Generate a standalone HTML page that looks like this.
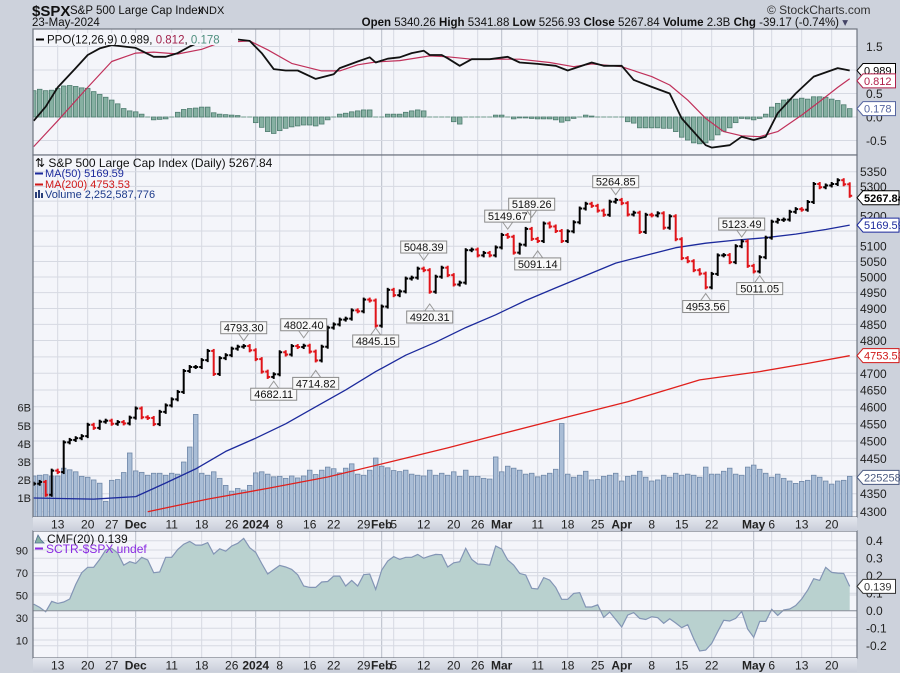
<!DOCTYPE html>
<html><head><meta charset="utf-8"><style>
html,body{margin:0;padding:0;background:#cdd2dc;}
svg{display:block;font-family:"Liberation Sans",sans-serif;}
</style></head><body>
<svg id="chart" width="900" height="673" viewBox="0 0 900 673" xmlns="http://www.w3.org/2000/svg">
<defs>
<linearGradient id="strip" x1="0" y1="0" x2="0" y2="1"><stop offset="0" stop-color="#e4e7ee"/><stop offset="1" stop-color="#c9ceda"/></linearGradient>
<clipPath id="cPPO"><rect x="33" y="29" width="824" height="126"/></clipPath>
<clipPath id="cMain"><rect x="33" y="155" width="824" height="362"/></clipPath>
<clipPath id="cCMF"><rect x="33" y="531" width="824" height="127"/></clipPath>
</defs>
<rect x="0" y="0" width="900" height="673" fill="#cdd2dc"/>
<g>
<text x="32" y="16" font-size="15" font-weight="bold" fill="#111">$SPX</text>
<text x="70" y="14" font-size="11.5" fill="#111">S&amp;P 500 Large Cap Index</text>
<text x="198" y="14" font-size="11" fill="#111">INDX</text>
<text x="32" y="26" font-size="11.5" fill="#111">23-May-2024</text>
<text x="767" y="14" font-size="12" fill="#333">© StockCharts.com</text>
<text x="848" y="26" font-size="11.5" fill="#111" text-anchor="end"><tspan font-weight="bold">Open</tspan> 5340.26 <tspan font-weight="bold">High</tspan> 5341.88 <tspan font-weight="bold">Low</tspan> 5256.93 <tspan font-weight="bold">Close</tspan> 5267.84 <tspan font-weight="bold">Volume</tspan> 2.3B <tspan font-weight="bold">Chg</tspan> -39.17 (-0.74%) <tspan fill="#446">▾</tspan></text>
</g>
<g id="ppoPanel"></g>
<g id="mainPanel"></g>
<g id="cmfPanel"></g>
</svg>
<script>
const closes=[4378,4383,4347,4415,4411,4496,4503,4508,4514,4547,4538,4556,4559,4550,4555,4551,4568,
4595,4569,4567,4549,4585,4604,4622,4644,4707,4719,4719,4740,4768,4698,4746,4755,4775,4781,4783,4770,
4743,4705,4689,4697,4764,4757,4783,4780,4784,4766,4739,4781,4840,4850,4865,4868,4894,4891,4928,4925,4846,
4906,4959,4942,4954,4995,4998,5027,5022,4953,5001,5030,5006,4976,4982,5087,5089,5070,5078,5070,5096,
5137,5131,5079,5105,5157,5124,5117,5175,5165,5150,5117,5149,5179,5225,5241,5234,5218,5204,5248,5254,
5243,5205,5211,5147,5204,5202,5209,5161,5199,5123,5061,5051,5022,5011,4967,5010,5070,5071,5048,5100,5116,5036,
5018,5064,5128,5181,5187,5188,5214,5223,5221,5247,5308,5297,5303,5308,5321,5307,5268];
const volumes=[2.2,2.24,2.27,2.2,2.2,2.63,2.54,2.43,2.18,2.13,1.98,1.8,0.8,1.96,2.0,2.39,3.47,
2.48,2.4,2.24,2.35,2.35,2.24,2.35,2.3,2.97,3.8,5.6,
2.35,2.24,2.43,2.07,1.68,1.36,1.51,1.42,1.68,
2.37,2.43,2.3,2.15,2.18,2.07,2.2,2.09,2.2,2.52,
2.28,2.52,2.69,2.6,2.37,2.63,2.87,2.3,2.24,2.52,
3.19,2.74,2.65,2.5,2.44,2.52,2.3,2.24,2.2,2.52,
2.24,2.35,2.24,
2.43,2.18,2.52,2.18,2.18,2.07,2.03,3.25,2.43,2.74,
2.63,2.52,2.3,2.35,2.15,2.24,2.35,2.57,5.1,2.3,
2.13,2.24,2.46,1.98,2.0,2.18,2.24,2.35,1.92,2.18,
2.24,2.46,2.13,1.92,1.98,2.24,2.13,2.35,2.24,2.3,
2.24,2.13,2.69,2.3,2.3,2.46,2.63,2.3,2.24,2.69,
2.8,2.57,2.35,2.13,2.3,2.07,1.92,1.79,1.9,1.96,
2.24,2.13,1.92,1.75,1.92,1.96,2.18];
const cmf=[0.038,0.019,-0.006,0.053,0.042,0.05,0.067,0.15,0.217,0.248,0.248,0.293,0.347,0.356,0.33,0.26,0.28,0.27,0.305,0.29,
0.217,0.221,0.305,0.305,0.35,0.38,0.396,0.375,0.375,0.389,0.324,0.354,0.34,0.37,0.385,0.413,0.36,0.333,0.27,0.21,
0.235,0.259,0.25,0.236,0.206,0.141,0.133,0.133,0.164,0.167,0.198,0.198,0.141,0.173,0.141,0.206,0.21,0.122,0.232,0.284,
0.309,0.293,0.305,0.305,0.322,0.3,0.312,0.322,0.32,0.25,
0.274,0.28,0.356,0.293,0.267,0.265,0.26,0.37,0.352,0.29,0.26,0.213,0.204,0.128,0.124,0.189,0.175,0.133,0.065,0.065,
0.099,0.103,0.021,0.021,0.034,-0.038,-0.008,-0.05,-0.093,-0.025,-0.011,-0.044,-0.05,-0.034,-0.04,-0.072,-0.046,-0.07,-0.097,-0.08,
-0.16,-0.23,-0.225,-0.187,-0.12,-0.055,-0.059,-0.044,-0.004,-0.105,-0.152,-0.061,-0.061,0.008,-0.027,0.004,0.01,0.03,0.067,0.118,
0.183,0.173,0.248,0.219,0.215,0.213,0.139];
const hist=[0.56,0.59,0.56,0.57,0.61,0.66,0.67,0.65,0.62,0.61,0.54,0.48,0.42,0.36,0.28,0.18,0.13,0.11,0.06,0.01,
-0.06,-0.05,-0.04,-0.01,0.1,0.16,0.18,0.19,0.21,0.21,0.09,0.06,0.05,0.04,0.03,0.01,-0.01,-0.12,-0.22,-0.31,
-0.35,-0.29,-0.24,-0.21,-0.19,-0.17,-0.17,-0.19,-0.15,-0.06,-0.01,0.06,0.08,0.11,0.13,0.15,0.15,0.01,0.01,0.06,
0.06,0.06,0.1,0.13,0.15,0.13,0.01,0,0,-0.01,
-0.1,-0.15,0.01,0.01,0.01,0.01,-0.01,0.04,0.04,-0.01,-0.04,-0.02,-0.02,-0.03,-0.04,-0.04,-0.04,-0.06,-0.11,-0.08,
-0.03,0.01,0.04,0.02,-0.01,-0.01,-0.01,-0.01,-0.01,-0.1,-0.13,-0.23,-0.23,-0.23,-0.23,-0.24,-0.24,-0.31,-0.43,-0.49,
-0.55,-0.57,-0.55,-0.49,-0.38,-0.3,-0.23,-0.12,-0.03,-0.04,-0.06,-0.03,0.06,0.21,0.29,0.36,0.38,0.38,0.4,0.38,
0.43,0.43,0.42,0.38,0.35,0.26,0.178];
const ppoIdx=[0,2,4,7,9,11,13,15,17,20,22,24,26,28,31,34,36,38,40,42,44,47,50,51,54,56,57,59,61,63,65,66,68,69,71,73,76,79,81,84,87,89,93,95,98,100,103,106,108,112,113,116,118,120,122,124,127,130,134,136];
const ppoVal=[-0.08,0.22,0.63,1.04,1.32,1.46,1.53,1.50,1.47,1.28,1.28,1.36,1.5,1.62,1.66,1.65,1.62,1.36,1.02,0.99,0.99,0.81,0.91,1.04,1.18,1.27,1.16,1.24,1.27,1.36,1.41,1.32,1.32,1.25,1.09,1.23,1.23,1.28,1.16,1.13,1.09,0.99,1.16,1.09,1.09,0.79,0.64,0.5,-0.03,-0.6,-0.65,-0.6,-0.42,-0.49,-0.42,0.08,0.5,0.86,1.04,0.989];
const sigIdx=[0,4,9,13,17,20,24,28,31,36,39,43,48,51,54,57,61,66,69,73,81,86,90,93,98,103,106,109,112,115,118,121,124,128,131,134,136];
const sigVal=[-0.63,-0.08,0.63,1.18,1.36,1.38,1.34,1.44,1.58,1.62,1.43,1.14,0.98,0.98,1.11,1.17,1.2,1.3,1.28,1.23,1.23,1.16,1.07,1.13,1.07,0.86,0.68,0.36,-0.03,-0.31,-0.4,-0.42,-0.31,0.04,0.33,0.63,0.812];
const ma50Idx=[0,10,17,22,27,32,37,42,47,52,57,62,67,72,77,82,87,92,97,102,107,112,117,122,127,132,136];
const ma50Val=[4338,4335,4342,4380,4420,4470,4508,4550,4600,4650,4705,4755,4795,4840,4880,4925,4965,5005,5045,5070,5095,5110,5120,5128,5140,5155,5169.59];
const ma200Idx=[19,29,39,49,59,69,79,89,99,111,121,129,136];
const ma200Val=[4300,4335,4365,4397,4438,4480,4525,4570,4615,4680,4705,4730,4753.53];
const annIdx=[35,40,45,47,57,65,66,79,83,84,97,112,118,121];
const annVal=[4793.30,4682.11,4802.40,4714.82,4845.15,5048.39,4920.31,5149.67,5189.26,5091.14,5264.85,4953.56,5123.49,5011.05];
const annAbove=[1,0,1,0,0,1,0,1,1,0,1,0,1,0];
const tickIdx=[4,9,13,17,23,28,33,37,41,46,50,55,58,60,65,70,74,78,84,89,94,98,103,108,113,120,123,128,133];
const tickLabel=["13","20","27","Dec","11","18","26","2024","8","16","22","29","Feb","5","12","20","26","Mar","11","18","25","Apr","8","15","22","May","6","13","20"];
const tickBold=[0,0,0,1,0,0,0,1,0,0,0,0,1,0,0,0,0,1,0,0,0,1,0,0,0,1,0,0,0];
const priceTicks=[4300,4350,4400,4450,4500,4550,4600,4650,4700,4750,4800,4850,4900,4950,5000,5050,5100,5150,5200,5250,5300,5350];
const volTicks=[1,2,3,4,5,6];
const ppoTicks=[1.5,1.0,0.5,0.0,-0.5];
const ppoTickLabels=["1.5","","","0.0","-0.5"];
const cmfTicks=[0.4,0.3,0.2,0.1,0.0,-0.1,-0.2];
const sctrTicks=[90,70,50,30,10];

const NS="http://www.w3.org/2000/svg";
const xOf=i=>33.7+6*i;
const yP=v=>511.7-1556*Math.log(v/4300);
const yV=b=>515.8-18.1*b;
const yPPO=v=>117-47*v;
const yCMF=v=>610.7-175*v;
const ySCTR=s=>550+(90-s)*1.125;
function mk(tag,attrs,parent,txt){const e=document.createElementNS(NS,tag);for(const k in attrs)e.setAttribute(k,attrs[k]);if(txt!==undefined)e.textContent=txt;parent.appendChild(e);return e;}

const ppoG=document.getElementById('ppoPanel');
const mainG=document.getElementById('mainPanel');
const cmfG=document.getElementById('cmfPanel');

function panelBase(g,y0,h,clip){
  const r=mk('rect',{x:33,y:y0,width:824,height:h,fill:'#f4f5fa',stroke:'none'},g);
  
  
  const grid=mk('g',{'clip-path':'url(#'+clip+')'},g);
  
  
  tickIdx.forEach((t,k)=>{mk('line',{x1:xOf(t),x2:xOf(t),y1:y0,y2:y0+h,stroke:tickBold[k]?'#b8bdc8':'#d6d9e2','stroke-width':1},grid);});
  return grid;
}
function hgrid(g,y){mk('line',{x1:33,x2:857,y1:y,y2:y,stroke:'#d6d9e2','stroke-width':1},g);}
function border(g,y0,h){const b=mk('rect',{x:33,y:y0,width:824,height:h,fill:'none',stroke:'#6f7480','stroke-width':1.2},g);
  }
function lineFrom(idx,vals,yf,parent,color,w){
  const pts=idx.map((t,k)=>xOf(t).toFixed(1)+','+yf(vals[k]).toFixed(1)).join(' ');
  return mk('polyline',{points:pts,fill:'none',stroke:color,'stroke-width':w,'stroke-linejoin':'round'},parent);
}
function tag(parent,y,text,color,bold){
  const w=Math.min(text.length*5.9+3,899-863);
  const p=mk('polygon',{points:`857,${y} 863,${y-7} ${863+w},${y-7} ${863+w},${y+7} 863,${y+7}`,fill:'#fff',stroke:color,'stroke-width':1},parent);
  
  
  mk('text',{x:864,y:y+4,'font-size':11,'font-weight':bold?'bold':'normal',fill:bold?'#000':color},parent,text);
}
function xStrip(y){
  const s=mk('rect',{x:33,y:y,width:824,height:14,fill:'url(#strip)'},mainG.parentNode);
  
  
  const g=mk('g',{},mainG.parentNode);
  
  
  tickIdx.forEach((t,k)=>{const tx=mk('text',{x:xOf(t),y:y+11.5,'font-size':12,'text-anchor':'middle','font-weight':tickBold[k]?'bold':'normal',fill:'#222'},g,tickLabel[k]);
    });
}

// ===== PPO panel =====
const pg=panelBase(ppoG,29,126,'cPPO');
ppoTicks.forEach(v=>hgrid(pg,yPPO(v)));
const hg=mk('g',{'clip-path':'url(#cPPO)'},ppoG);


hist.forEach((v,i)=>{const y0=yPPO(0),y1=yPPO(v);
  if(Math.abs(v)<0.02){mk('line',{x1:xOf(i)-2.5,x2:xOf(i)+2.5,y1:y0,y2:y0,stroke:'#6f9a8c','stroke-width':1},hg);return;}
  const b=mk('rect',{x:xOf(i)-2.3,y:Math.min(y0,y1),width:4.6,height:Math.abs(y1-y0),fill:'#86b0a2',stroke:'#4f7d70','stroke-width':0.8},hg);
  });
const ppoLines=mk('g',{'clip-path':'url(#cPPO)'},ppoG);
const sl=lineFrom(sigIdx,sigVal,yPPO,ppoLines,'#c0305a',1.2);

const pl=lineFrom(ppoIdx,ppoVal,yPPO,ppoLines,'#111',1.8);

border(ppoG,29,126);
ppoTicks.forEach((v,k)=>{if(ppoTickLabels[k])mk('text',{x:866,y:yPPO(v)+4.5,'font-size':12,fill:'#222'},ppoG,ppoTickLabels[k]);});
mk('text',{x:866,y:yPPO(0.5)+4.5,'font-size':12,fill:'#222'},ppoG,'0.5');
tag(ppoG,yPPO(ppoVal[ppoVal.length-1]),'0.989','#000',false);
tag(ppoG,yPPO(sigVal[sigVal.length-1])+2,'0.812','#b0204a',false);
tag(ppoG,yPPO(hist[hist.length-1]),'0.178','#5565a0',false);
const pleg=mk('g',{},ppoG);

mk('rect',{x:35,y:33,width:203,height:12,fill:'#f4f5fa'},pleg);
mk('line',{x1:36,x2:44,y1:39.5,y2:39.5,stroke:'#000','stroke-width':2},pleg);
const plt=mk('text',{x:47,y:43.5,'font-size':11.5,fill:'#111'},pleg);
mk('tspan',{},plt,'PPO(12,26,9) 0.989, ');
mk('tspan',{fill:'#a0204a'},plt,'0.812');
mk('tspan',{},plt,', ');
mk('tspan',{fill:'#4f8f7f'},plt,'0.178');

// ===== Main panel =====
const mg=panelBase(mainG,155,362,'cMain');
priceTicks.forEach(v=>hgrid(mg,yP(v)));
const vg=mk('g',{'clip-path':'url(#cMain)'},mainG);

volumes.forEach((b,i)=>{const y=yV(b);
  const r=mk('rect',{x:xOf(i)-2.3,y:y,width:4.6,height:517-y,fill:'#a9bdd6',stroke:'#7088a8','stroke-width':0.8},vg);
  });
const ml=mk('g',{'clip-path':'url(#cMain)'},mainG);
const m2=lineFrom(ma200Idx,ma200Val,yP,ml,'#e0201c',1.3);

const m5=lineFrom(ma50Idx,ma50Val,yP,ml,'#1c2a9c',1.3);

const bg=mk('g',{'clip-path':'url(#cMain)'},mainG);

closes.forEach((c,i)=>{const o=i?closes[i-1]:c;const col=(i&&c<o)?'#e0141a':'#000';
  const x=xOf(i),yo=yP(o),yc=yP(c);
  const hi=Math.min(yo,yc)-2,lo=Math.max(yo,yc)+2;
  const g=mk('g',{stroke:col,'stroke-width':2},bg);
  
  mk('line',{x1:x,x2:x,y1:hi,y2:lo},g);
  mk('line',{x1:x-2.5,x2:x,y1:yo,y2:yo},g);
  mk('line',{x1:x,x2:x+2.5,y1:yc,y2:yc},g);});
const ag=mk('g',{},mainG);

annIdx.forEach((t,k)=>{const x=xOf(t),y=yP(annVal[k]);const s=annVal[k].toFixed(2);const w=s.length*6+4;
  const by=annAbove[k]?y-21:y+9;
  const a=mk('g',{},ag);
  
  mk('polyline',{points:annAbove[k]?`${x-5},${by+12} ${x},${y-2} ${x+5},${by+12}`:`${x-5},${by} ${x},${y+2} ${x+5},${by}`,fill:'none',stroke:'#999','stroke-width':1},a);
  mk('rect',{x:x-w/2,y:by,width:w,height:12,fill:'#f8f8f8',stroke:'#8a8a8a','stroke-width':1},a);
  mk('text',{x:x,y:by+10,'font-size':11,'text-anchor':'middle',fill:'#111'},a,s);});
border(mainG,155,362);
const hidden={5300:1,5250:1,5150:1,4750:1,4400:1};
priceTicks.forEach(v=>{if(hidden[v])return;const t=mk('text',{x:860,y:yP(v)+4.5,'font-size':12,fill:'#222'},mainG,String(v));
  });
mk('text',{x:860,y:yP(5300)+4.5,'font-size':12,fill:'#222'},mainG,'5300');
volTicks.forEach(b=>{const t=mk('text',{x:31,y:yV(b)+4.5,'font-size':11,'text-anchor':'end',fill:'#222'},mainG,b+'B');
  });
tag(mainG,yP(closes[closes.length-1])+2,'5267.84','#000',true);
tag(mainG,yP(ma50Val[ma50Val.length-1]),'5169.59','#1c2a9c',false);
tag(mainG,yP(ma200Val[ma200Val.length-1]),'4753.53','#d01818',false);
tag(mainG,yV(volumes[volumes.length-1])+1,'2252587','#4a5a80',false);
const mleg=mk('g',{},mainG);

mk('text',{x:35,y:167,'font-size':12,fill:'#111'},mleg,'⇅ S&P 500 Large Cap Index (Daily) 5267.84');
mk('line',{x1:35,x2:43,y1:173.5,y2:173.5,stroke:'#1c2a9c','stroke-width':2},mleg);
mk('text',{x:45,y:177,'font-size':11,fill:'#1c2a9c'},mleg,'MA(50) 5169.59');
mk('line',{x1:35,x2:43,y1:184.5,y2:184.5,stroke:'#d01818','stroke-width':2},mleg);
mk('text',{x:45,y:188,'font-size':11,fill:'#d01818'},mleg,'MA(200) 4753.53');
mk('rect',{x:35,y:192,width:2,height:6,fill:'#2a3f7a'},mleg);mk('rect',{x:38,y:190,width:2,height:8,fill:'#2a3f7a'},mleg);mk('rect',{x:41,y:193,width:2,height:5,fill:'#2a3f7a'},mleg);
mk('text',{x:45,y:198,'font-size':11,fill:'#1c3a8a'},mleg,'Volume 2,252,587,776');
xStrip(517);

// ===== CMF panel =====
const cg=panelBase(cmfG,531,127,'cCMF');
cmfTicks.forEach(v=>hgrid(cg,yCMF(v)));
sctrTicks.forEach(s=>hgrid(cg,ySCTR(s)));
const cf=mk('g',{'clip-path':'url(#cCMF)'},cmfG);
const z=yCMF(0);
let d='M'+xOf(0)+','+z;
cmf.forEach((v,i)=>{d+=' L'+xOf(i).toFixed(1)+','+yCMF(v).toFixed(1);});
d+=' L'+xOf(cmf.length-1)+','+z+' Z';
const area=mk('path',{d:d,fill:'#b9d1cf',stroke:'none'},cf);

const cl=mk('polyline',{points:cmf.map((v,i)=>xOf(i).toFixed(1)+','+yCMF(v).toFixed(1)).join(' '),fill:'none',stroke:'#8395b5','stroke-width':1.2},cf);

mk('line',{x1:33,x2:857,y1:z,y2:z,stroke:'#8a8f9a','stroke-width':1},cf);
border(cmfG,531,127);
cmfTicks.forEach(v=>{const t=mk('text',{x:866,y:yCMF(v)+4.5,'font-size':12,fill:'#222'},cmfG,v.toFixed(1));
  });
sctrTicks.forEach(s=>{const t=mk('text',{x:28,y:ySCTR(s)+4.5,'font-size':11,'text-anchor':'end',fill:'#222'},cmfG,String(s));
  });
tag(cmfG,yCMF(cmf[cmf.length-1]),'0.139','#333',false);
const cleg=mk('g',{},cmfG);

mk('polygon',{points:'35,543 38,535 41,540 44,543',fill:'#86b0a2',stroke:'#4f6d90','stroke-width':0.8},cleg);
mk('text',{x:47,y:543,'font-size':12,fill:'#111'},cleg,'CMF(20) 0.139');
mk('line',{x1:35,x2:43,y1:548.5,y2:548.5,stroke:'#8a2be2','stroke-width':2},cleg);
mk('text',{x:46,y:553,'font-size':12,fill:'#8a2be2'},cleg,'SCTR-$SPX undef');
xStrip(658);
</script>
</body></html>
